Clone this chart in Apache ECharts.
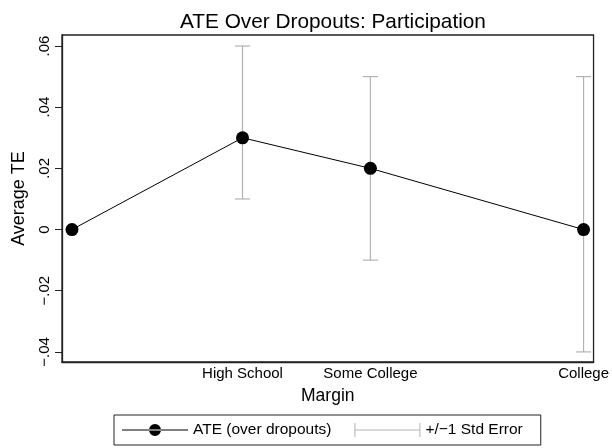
<!DOCTYPE html>
<html><head><meta charset="utf-8">
<script src="https://cdn.jsdelivr.net/npm/echarts@6/dist/echarts.min.js"></script>
<style>html,body{margin:0;padding:0;background:#fff}#c{width:612px;height:448px}</style>
</head><body><div id="c"></div>
<script>
// Data
const categories = ['Dropouts', 'High School', 'Some College', 'College'];
const xPositions = [10, 12, 13.5, 16];
const ate = [0, 0.03, 0.02, 0];
const seLow = [null, 0.01, -0.01, -0.04];
const seHigh = [null, 0.06, 0.05, 0.05];
const yTicks = [-0.04, -0.02, 0, 0.02, 0.04, 0.06];
const xTickLabels = ['', 'High School', 'Some College', 'College'];

const FONT = 'Liberation Sans, Arial, Helvetica, sans-serif';
const lineData = xPositions.map((x, i) => [x, ate[i]]);
const errData = [];
xPositions.forEach((x, i) => { if (seLow[i] !== null) errData.push([x, seLow[i], seHigh[i]]); });
const xLabelValues = xPositions.filter((x, i) => xTickLabels[i] !== '');

function fmtY(v) {
  if (Math.abs(v) < 1e-12) return '0';
  const s = Math.abs(v).toFixed(2).replace(/^0/, '');
  return (v < 0 ? '\u2212' : '') + s;
}

const chart = echarts.init(document.getElementById('c'), null, {renderer: 'canvas'});
chart.setOption({
  animation: false,
  backgroundColor: '#fff',
  textStyle: {fontFamily: FONT},
  title: {
    text: 'ATE Over Dropouts: Participation',
    left: 175, top: 7,
    textStyle: {fontFamily: FONT, fontSize: 20.8, fontWeight: 'normal', color: '#000'}
  },
  grid: {left: 62, right: 18, top: 35, bottom: 86, show: true, borderColor: '#222', borderWidth: 1.3, backgroundColor: '#fff'},
  xAxis: {
    type: 'value', min: 9.883, max: 16.117,
    name: 'Margin', nameLocation: 'middle', nameGap: 25,
    nameTextStyle: {fontFamily: FONT, fontSize: 17.5, color: '#000'},
    axisLine: {show: true, onZero: false, lineStyle: {color: '#222', width: 1.3}},
    axisTick: {show: false},
    splitLine: {show: false},
    axisLabel: {
      customValues: xLabelValues, margin: 4,
      fontFamily: FONT, fontSize: 15, color: '#000',
      formatter: v => { const i = xPositions.findIndex(x => Math.abs(x - v) < 1e-9); return i >= 0 ? xTickLabels[i] : ''; }
    }
  },
  yAxis: {
    type: 'value', min: -0.0433, max: 0.0636,
    name: 'Average TE', nameLocation: 'middle', nameGap: 34,
    nameTextStyle: {fontFamily: FONT, fontSize: 18, color: '#000'},
    axisLine: {show: true, onZero: false, lineStyle: {color: '#222', width: 1.3}},
    axisTick: {show: true, customValues: yTicks, length: 7, lineStyle: {color: '#222', width: 1}},
    splitLine: {show: false},
    axisLabel: {customValues: yTicks, rotate: 90, margin: 10, fontFamily: FONT, fontSize: 15, color: '#000', formatter: fmtY}
  },
  legend: {
    left: 114, top: 415,
    padding: [7, 18, 7, 8],
    borderColor: '#222', borderWidth: 1, borderRadius: 0,
    itemWidth: 66, itemHeight: 14, itemGap: 23,
    textStyle: {fontFamily: FONT, fontSize: 15.5, color: '#000'},
    data: [
      {name: 'ATE (over dropouts)', icon: 'path://M0,6.5h66v1h-66zM33,1a6,6 0 1,0 0.001,0z'},
      {name: '+/\u22121 Std Error', icon: 'path://M0,0h1v14h-1zM1,6.6h64v0.8h-64zM65,0h1v14h-1z'}
    ]
  },
  series: [
    {
      name: '+/\u22121 Std Error',
      type: 'custom',
      z: 2,
      itemStyle: {color: '#b3b3b3'},
      data: errData,
      encode: {x: 0, y: [1, 2]},
      renderItem: function (params, api) {
        const x = api.value(0);
        const lo = api.coord([x, api.value(1)]);
        const hi = api.coord([x, api.value(2)]);
        const hw = 7.5;
        const st = {stroke: '#b3b3b3', lineWidth: 1.2, fill: null};
        return {
          type: 'group',
          children: [
            {type: 'line', shape: {x1: lo[0], y1: lo[1], x2: hi[0], y2: hi[1]}, style: st},
            {type: 'line', shape: {x1: lo[0] - hw, y1: lo[1], x2: lo[0] + hw, y2: lo[1]}, style: st},
            {type: 'line', shape: {x1: hi[0] - hw, y1: hi[1], x2: hi[0] + hw, y2: hi[1]}, style: st}
          ]
        };
      }
    },
    {
      name: 'ATE (over dropouts)',
      type: 'line',
      z: 5,
      data: lineData,
      symbol: 'circle', symbolSize: 13,
      itemStyle: {color: '#000'},
      lineStyle: {color: '#000', width: 1}
    }
  ]
});
</script>
</body></html>
